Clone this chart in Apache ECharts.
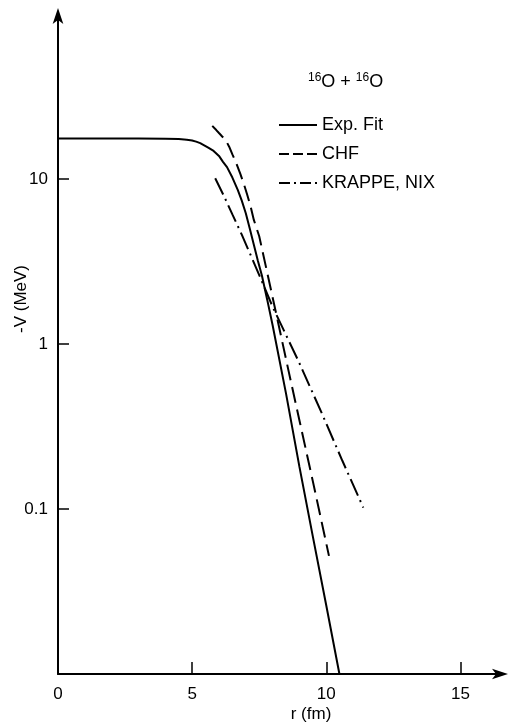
<!DOCTYPE html>
<html>
<head>
<meta charset="utf-8">
<script src="https://cdn.jsdelivr.net/npm/echarts@6/dist/echarts.min.js"></script>
<style>html,body{margin:0;padding:0;background:#fff}#c{width:509px;height:723px}</style>
</head>
<body>
<div id="c"></div>
<script>
// Exp. Fit (r in fm, -V in MeV)
const expFit = [[0,17.6],[1,17.6],[2,17.6],[3,17.6],[4,17.55],[4.5,17.45],[4.8,17.3],[5,17.1],[5.15,16.85],[5.3,16.5],[5.45,16.0],[5.6,15.5],[5.8,14.8],[6.0,13.8],[6.15,12.7],[6.3,11.8],[6.5,10.2],[6.7,8.6],[6.85,7.4],[7.0,6.2],[7.15,5.0],[7.3,4.0],[7.45,3.2],[7.6,2.6],[7.8,1.85],[8.0,1.3],[8.5,0.5],[9.0,0.18],[9.5,0.068],[10.0,0.026],[10.49,0.01]];
// CHF
const chf = [[5.75,21.0],[5.9,19.8],[6.0,19.0],[6.12,18.1],[6.25,17.2],[6.38,15.7],[6.5,14.1],[6.65,12.4],[6.8,10.7],[6.93,9.3],[7.05,8.06],[7.18,6.8],[7.3,5.65],[7.5,4.5],[7.8,2.7],[8.2,1.36],[8.6,0.68],[9.0,0.344],[9.5,0.147],[10.1,0.052]];
// KRAPPE, NIX
const krappeNix = [[5.86,10.1],[6.2,7.8],[6.5,6.1],[6.85,4.6],[7.2,3.4],[7.6,2.4],[8.0,1.68],[8.96,0.79],[9.85,0.375],[10.6,0.196],[11.38,0.102]];
const seriesNames = ['Exp. Fit','CHF','KRAPPE, NIX'];
const yTickValues = [0.1, 1, 10];
const yTickLabels = {'0.1':'0.1','1':'1','10':'10'};
const xTickValues = [5, 10, 15];
const xLabelValues = [0, 5, 10, 15];

const FONT = 'Liberation Sans';
const chart = echarts.init(document.getElementById('c'), null, {renderer:'canvas'});
chart.setOption({
  animation:false,
  backgroundColor:'#fff',
  title:{
    left:308, top:72, padding:0,
    text:'{s|16}{b|O + }{s|16}{b|O}',
    textStyle:{
      fontWeight:'normal',
      rich:{
        s:{fontSize:12, fontFamily:FONT, fontWeight:'normal', color:'#000', verticalAlign:'top', lineHeight:20},
        b:{fontSize:18, fontFamily:FONT, fontWeight:'normal', color:'#000', lineHeight:20}
      }
    }
  },
  legend:{
    orient:'vertical', left:278, top:116, padding:0,
    itemWidth:38, itemHeight:14, itemGap:11,
    itemStyle:{opacity:0},
    textStyle:{fontFamily:FONT, fontSize:18, color:'#000', lineHeight:18},
    data:[
      {name:seriesNames[0]},
      {name:seriesNames[1], lineStyle:{type:[10,4]}},
      {name:seriesNames[2], lineStyle:{type:[11,4,2,4]}}
    ]
  },
  grid:{left:58, right:7, top:14, bottom:49, containLabel:false, outerBoundsMode:'none'},
  xAxis:{
    type:'value', min:0, max:16.55, interval:5,
    name:'r (fm)', nameLocation:'middle', nameGap:32, nameMoveOverlap:false,
    nameTextStyle:{fontFamily:FONT, fontSize:17, color:'#000', padding:[0,0,0,62]},
    axisLine:{show:true, onZero:false, symbol:['none','arrow'], symbolSize:[8,16], symbolOffset:[0,6], lineStyle:{color:'#000', width:2}},
    axisTick:{show:true, inside:true, length:12, customValues:xTickValues, lineStyle:{color:'#000', width:1.5}},
    axisLabel:{fontFamily:FONT, fontSize:17, color:'#000', margin:12, customValues:xLabelValues},
    splitLine:{show:false}
  },
  yAxis:{
    type:'log', logBase:10, min:0.01, max:100,
    name:'-V (MeV)', nameLocation:'middle', nameGap:28, nameRotate:90, nameMoveOverlap:false,
    nameTextStyle:{fontFamily:FONT, fontSize:17, color:'#000', padding:[0,0,0,90]},
    axisLine:{show:true, onZero:false, symbol:['none','arrow'], symbolSize:[8,16], symbolOffset:[0,6], lineStyle:{color:'#000', width:2}},
    axisTick:{show:true, inside:true, length:11, customValues:yTickValues, lineStyle:{color:'#000', width:1.5}},
    axisLabel:{fontFamily:FONT, fontSize:17, color:'#000', margin:10, customValues:yTickValues,
      formatter:v => { const k = String(+Number(v).toPrecision(6)); return yTickLabels[k] ?? ''; }},
    splitLine:{show:false}
  },
  series:[
    {name:seriesNames[0], type:'line', data:expFit, symbol:'none', smooth:false,
     lineStyle:{color:'#000', width:2, type:'solid'}, itemStyle:{color:'#000'}},
    {name:seriesNames[1], type:'line', data:chf, symbol:'none', smooth:false,
     lineStyle:{color:'#000', width:2, type:[16,7]}, itemStyle:{color:'#000'}},
    {name:seriesNames[2], type:'line', data:krappeNix, symbol:'none', smooth:false,
     lineStyle:{color:'#000', width:2, type:[18,5,2,5]}, itemStyle:{color:'#000'}}
  ]
});
</script>
</body>
</html>
